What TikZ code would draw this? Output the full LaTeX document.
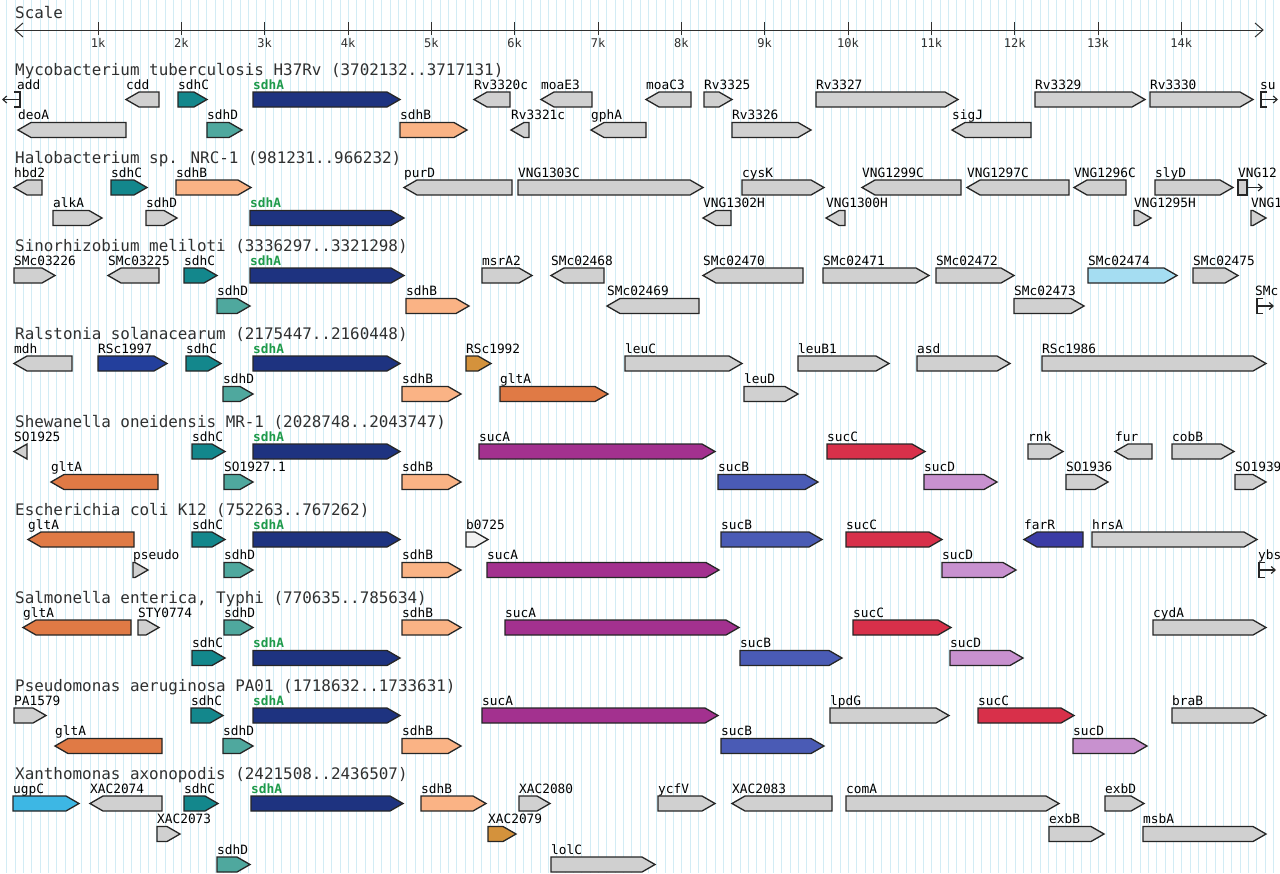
\documentclass[tikz,border=0pt]{standalone}
\usepackage{fontspec}
\setmainfont{DejaVu Sans Mono}
\newfontfamily\monofnt{DejaVu Sans Mono}
\usetikzlibrary{arrows.meta}
\definecolor{gry}{HTML}{D0D0D0}
\definecolor{sdha}{HTML}{1E3380}
\definecolor{sdhc}{HTML}{13878C}
\definecolor{sdhd}{HTML}{4FA89E}
\definecolor{sdhb}{HTML}{FAB385}
\definecolor{glta}{HTML}{E07A45}
\definecolor{suca}{HTML}{A3318F}
\definecolor{sucb}{HTML}{4A5BB5}
\definecolor{succ}{HTML}{D8304A}
\definecolor{sucd}{HTML}{C891CF}
\definecolor{goldc}{HTML}{D4923C}
\definecolor{smcb}{HTML}{A5DDF2}
\definecolor{ugpc}{HTML}{3DB7E4}
\definecolor{farr}{HTML}{3B3CA5}
\definecolor{rscb}{HTML}{233F9C}
\definecolor{whitec}{HTML}{F2F2F2}
\definecolor{sdhgreen}{HTML}{1E9A4A}
\definecolor{gridc}{HTML}{D2ECF5}
\definecolor{outl}{HTML}{262626}
\definecolor{titlec}{HTML}{303030}
\newcounter{lc}
\newcommand{\glab}[3]{\stepcounter{lc}\node[genelabel] (lab\arabic{lc}) at (#1,#2-10.5) {#3};}
\newcommand{\gR}[5]{\pgfmathsetmacro\gHx{max(#2-13,#1)}\draw[genebox,fill=#4] (#1,#3-7.5) -- (\gHx,#3-7.5) -- (#2,#3) -- (\gHx,#3+7.5) -- (#1,#3+7.5) -- cycle;\glab{#1}{#3}{#5}}
\newcommand{\gL}[5]{\pgfmathsetmacro\gHx{min(#1+13,#2)}\draw[genebox,fill=#4] (#1,#3) -- (\gHx,#3-7.5) -- (#2,#3-7.5) -- (#2,#3+7.5) -- (\gHx,#3+7.5) -- cycle;\glab{#1}{#3}{#5}}
\newcommand{\rcut}[2]{\draw[symline] (#1+6,#2-7.5) -- (#1,#2-7.5) -- (#1,#2+7.5) -- (#1+6,#2+7.5);\draw[symline,-{Straight Barb[length=4pt,width=7pt]}] (#1,#2) -- (#1+17,#2);}
\newcommand{\sA}{\textcolor{sdhgreen}{\bfseries sdhA}}
\begin{document}
\begin{tikzpicture}[x=1pt,y=-1pt,
  genebox/.style={draw=outl,line width=1.3pt,line join=miter},
  genelabel/.style={anchor=base west,inner sep=0pt,font=\monofnt\fontsize{12.8}{14}\selectfont,text=black},
  title/.style={anchor=base west,inner sep=0pt,font=\monofnt\fontsize{15.9}{18}\selectfont,text=titlec},
  ticklab/.style={anchor=north,inner sep=0pt,font=\monofnt\fontsize{12}{13}\selectfont,text=titlec},
  axisl/.style={draw=titlec,line width=1pt},
  symline/.style={draw=outl,line width=1.1pt},
  gridline/.style={draw=gridc,line width=0.7pt}]
\useasboundingbox (0,0) rectangle (1280,873);
\clip (0,0) rectangle (1280,873);
\fill[white] (0,0) rectangle (1280,873);
\foreach \i in {-1,...,152} \draw[gridline] ({15+8.3333*\i},0) -- ++(0,873);
% scale
\node[title] (scale) at (15,18) {Scale};
\draw[axisl] (15,30) -- (1263,30);
\draw[axisl] (23,23) -- (15,30) -- (23,37);
\draw[axisl] (1255,23) -- (1263,30) -- (1255,37);
\foreach \k in {1,...,14}{\draw[axisl] ({14.7+83.33*\k},22) -- ++(0,13);
  \node[ticklab] (tk\k) at ({14.7+83.33*\k},38) {\k k};}
% titles
\node[title] (t0) at (15,75) {Mycobacterium tuberculosis H37Rv (3702132..3717131)};
\node[title] (t1) at (15,163) {Halobacterium sp. NRC-1 (981231..966232)};
\node[title] (t2) at (15,251) {Sinorhizobium meliloti (3336297..3321298)};
\node[title] (t3) at (15,339) {Ralstonia solanacearum (2175447..2160448)};
\node[title] (t4) at (15,427) {Shewanella oneidensis MR-1 (2028748..2043747)};
\node[title] (t5) at (15,515) {Escherichia coli K12 (752263..767262)};
\node[title] (t6) at (15,603) {Salmonella enterica, Typhi (770635..785634)};
\node[title] (t7) at (15,691) {Pseudomonas aeruginosa PA01 (1718632..1733631)};
\node[title] (t8) at (15,779) {Xanthomonas axonopodis (2421508..2436507)};
% row 0 Mycobacterium
\draw[symline] (14,92) -- (20,92) -- (20,107) -- (14,107);
\draw[symline,-{Straight Barb[length=4pt,width=7pt]}] (20,99.5) -- (2,99.5);
\glab{17}{99.5}{add}
\gL{126}{159}{99.5}{gry}{cdd}
\gR{178}{207}{99.5}{sdhc}{sdhC}
\gR{253}{400}{99.5}{sdha}{\sA}
\gL{474}{510}{99.5}{gry}{Rv3320c}
\gL{541}{592}{99.5}{gry}{moaE3}
\gL{646}{691}{99.5}{gry}{moaC3}
\gR{704}{732}{99.5}{gry}{Rv3325}
\gR{816}{958}{99.5}{gry}{Rv3327}
\gR{1035}{1145}{99.5}{gry}{Rv3329}
\gR{1150}{1253}{99.5}{gry}{Rv3330}
\rcut{1261}{99.5}
\glab{1260}{99.5}{su}
\gL{18}{126}{130}{gry}{deoA}
\gR{207}{242}{130}{sdhd}{sdhD}
\gR{400}{467}{130}{sdhb}{sdhB}
\gL{511}{529}{130}{gry}{Rv3321c}
\gL{591}{646}{130}{gry}{gphA}
\gR{732}{811}{130}{gry}{Rv3326}
\gL{952}{1031}{130}{gry}{sigJ}
% row 1 Halobacterium
\gL{14}{42}{187.5}{gry}{hbd2}
\gR{111}{147}{187.5}{sdhc}{sdhC}
\gR{176}{251}{187.5}{sdhb}{sdhB}
\gL{404}{512}{187.5}{gry}{purD}
\gR{518}{703}{187.5}{gry}{VNG1303C}
\gR{742}{824}{187.5}{gry}{cysK}
\gL{862}{961}{187.5}{gry}{VNG1299C}
\gL{967}{1069}{187.5}{gry}{VNG1297C}
\gL{1074}{1126}{187.5}{gry}{VNG1296C}
\gR{1155}{1233}{187.5}{gry}{slyD}
\draw[genebox,fill=gry] (1238,180) rectangle (1247,195);
\draw[symline,-{Straight Barb[length=4pt,width=7pt]}] (1247,187.5) -- (1263,187.5);
\glab{1238}{187.5}{VNG12}
\gR{53}{102}{218}{gry}{alkA}
\gR{146}{177}{218}{gry}{sdhD}
\gR{250}{404}{218}{sdha}{\sA}
\gL{703}{731}{218}{gry}{VNG1302H}
\gL{826}{845}{218}{gry}{VNG1300H}
\gR{1134}{1151}{218}{gry}{VNG1295H}
\gR{1251}{1266}{218}{gry}{VNG1}
% row 2 Sinorhizobium
\gR{14}{55}{275.5}{gry}{SMc03226}
\gL{108}{159}{275.5}{gry}{SMc03225}
\gR{184}{217}{275.5}{sdhc}{sdhC}
\gR{250}{404}{275.5}{sdha}{\sA}
\gR{482}{532}{275.5}{gry}{msrA2}
\gL{551}{604}{275.5}{gry}{SMc02468}
\gL{703}{803}{275.5}{gry}{SMc02470}
\gR{823}{929}{275.5}{gry}{SMc02471}
\gR{936}{1014}{275.5}{gry}{SMc02472}
\gR{1088}{1177}{275.5}{smcb}{SMc02474}
\gR{1193}{1238}{275.5}{gry}{SMc02475}
\gR{217}{250}{306}{sdhd}{sdhD}
\gR{406}{469}{306}{sdhb}{sdhB}
\gL{607}{699}{306}{gry}{SMc02469}
\gR{1014}{1084}{306}{gry}{SMc02473}
\rcut{1257}{306}
\glab{1255}{306}{SMc}
% row 3 Ralstonia
\gL{14}{72}{363.5}{gry}{mdh}
\gR{98}{167}{363.5}{rscb}{RSc1997}
\gR{186}{221}{363.5}{sdhc}{sdhC}
\gR{253}{400}{363.5}{sdha}{\sA}
\gR{466}{491}{363.5}{goldc}{RSc1992}
\gR{625}{742}{363.5}{gry}{leuC}
\gR{798}{889}{363.5}{gry}{leuB1}
\gR{917}{1010}{363.5}{gry}{asd}
\gR{1042}{1266}{363.5}{gry}{RSc1986}
\gR{223}{253}{394}{sdhd}{sdhD}
\gR{402}{461}{394}{sdhb}{sdhB}
\gR{500}{608}{394}{glta}{gltA}
\gR{744}{798}{394}{gry}{leuD}
% row 4 Shewanella
\gL{14}{27}{451.5}{gry}{SO1925}
\gR{192}{225}{451.5}{sdhc}{sdhC}
\gR{253}{400}{451.5}{sdha}{\sA}
\gR{479}{715}{451.5}{suca}{sucA}
\gR{827}{925}{451.5}{succ}{sucC}
\gR{1028}{1063}{451.5}{gry}{rnk}
\gL{1115}{1152}{451.5}{gry}{fur}
\gR{1172}{1234}{451.5}{gry}{cobB}
\gL{51}{158}{482}{glta}{gltA}
\gR{224}{253}{482}{sdhd}{SO1927.1}
\gR{402}{461}{482}{sdhb}{sdhB}
\gR{718}{818}{482}{sucb}{sucB}
\gR{924}{997}{482}{sucd}{sucD}
\gR{1066}{1108}{482}{gry}{SO1936}
\gR{1235}{1266}{482}{gry}{SO1939}
% row 5 E. coli
\gL{28}{134}{539.5}{glta}{gltA}
\gR{192}{225}{539.5}{sdhc}{sdhC}
\gR{253}{400}{539.5}{sdha}{\sA}
\gR{466}{488}{539.5}{whitec}{b0725}
\gR{721}{822}{539.5}{sucb}{sucB}
\gR{846}{942}{539.5}{succ}{sucC}
\gL{1024}{1083}{539.5}{farr}{farR}
\gR{1092}{1257}{539.5}{gry}{hrsA}
\gR{133}{148}{570}{gry}{pseudo}
\gR{224}{253}{570}{sdhd}{sdhD}
\gR{402}{461}{570}{sdhb}{sdhB}
\gR{487}{719}{570}{suca}{sucA}
\gR{942}{1016}{570}{sucd}{sucD}
\rcut{1259}{570}
\glab{1258}{570}{ybs}
% row 6 Salmonella
\gL{23}{131}{627.5}{glta}{gltA}
\gR{138}{159}{627.5}{gry}{STY0774}
\gR{224}{253}{627.5}{sdhd}{sdhD}
\gR{402}{461}{627.5}{sdhb}{sdhB}
\gR{505}{739}{627.5}{suca}{sucA}
\gR{853}{951}{627.5}{succ}{sucC}
\gR{1153}{1266}{627.5}{gry}{cydA}
\gR{192}{225}{658}{sdhc}{sdhC}
\gR{253}{400}{658}{sdha}{\sA}
\gR{740}{842}{658}{sucb}{sucB}
\gR{950}{1023}{658}{sucd}{sucD}
% row 7 Pseudomonas
\gR{14}{46}{715.5}{gry}{PA1579}
\gR{191}{223}{715.5}{sdhc}{sdhC}
\gR{253}{400}{715.5}{sdha}{\sA}
\gR{482}{718}{715.5}{suca}{sucA}
\gR{830}{949}{715.5}{gry}{lpdG}
\gR{978}{1074}{715.5}{succ}{sucC}
\gR{1172}{1266}{715.5}{gry}{braB}
\gL{55}{162}{746}{glta}{gltA}
\gR{223}{253}{746}{sdhd}{sdhD}
\gR{402}{461}{746}{sdhb}{sdhB}
\gR{721}{824}{746}{sucb}{sucB}
\gR{1073}{1147}{746}{sucd}{sucD}
% row 8 Xanthomonas
\gR{13}{79}{803.5}{ugpc}{ugpC}
\gL{90}{162}{803.5}{gry}{XAC2074}
\gR{184}{218}{803.5}{sdhc}{sdhC}
\gR{251}{403}{803.5}{sdha}{\sA}
\gR{421}{486}{803.5}{sdhb}{sdhB}
\gR{519}{550}{803.5}{gry}{XAC2080}
\gR{658}{715}{803.5}{gry}{ycfV}
\gL{732}{832}{803.5}{gry}{XAC2083}
\gR{846}{1059}{803.5}{gry}{comA}
\gR{1105}{1144}{803.5}{gry}{exbD}
\gR{157}{180}{834}{gry}{XAC2073}
\gR{488}{516}{834}{goldc}{XAC2079}
\gR{1049}{1104}{834}{gry}{exbB}
\gR{1143}{1266}{834}{gry}{msbA}
\gR{217}{250}{864.5}{sdhd}{sdhD}
\gR{551}{655}{864.5}{gry}{lolC}
\end{tikzpicture}
\end{document}
